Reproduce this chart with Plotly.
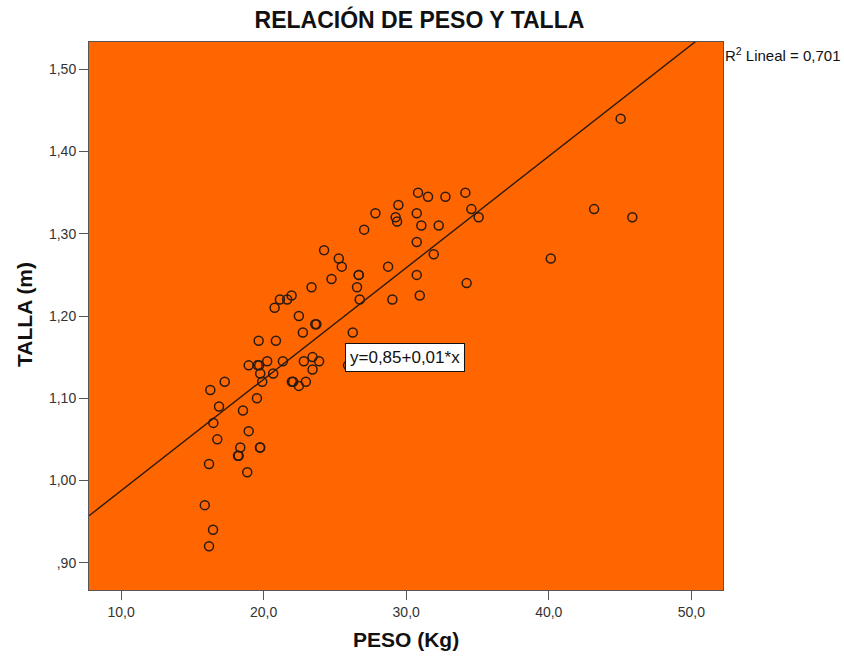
import plotly.graph_objects as go

# Data
peso = [27.84, 27.05, 24.24, 25.27, 25.48, 26.67, 26.67, 24.76, 23.36, 26.55,
        26.74, 21.96, 21.14, 21.65, 20.77, 22.47, 23.62, 23.70, 22.75, 26.25,
        19.65, 20.86, 18.95, 19.58, 19.69, 20.25, 21.35, 19.76, 20.67, 19.90,
        22.82, 23.43, 23.89, 23.43, 21.98, 22.07, 22.47, 22.96, 25.92, 17.27,
        16.26, 16.87, 19.53, 18.55, 16.47, 16.75, 18.95, 18.36, 18.20, 18.25,
        19.74, 19.76, 16.17, 18.85, 15.87, 16.45, 16.17, 30.83, 31.53, 32.75,
        34.15, 29.45, 29.26, 29.36, 30.74, 34.57, 35.08, 31.06, 32.28, 30.74,
        31.93, 28.73, 30.74, 29.03, 30.95, 34.24, 45.04, 43.18, 45.86, 40.14]

talla = [1.325, 1.305, 1.280, 1.270, 1.260, 1.250, 1.250, 1.245, 1.235, 1.235,
         1.220, 1.225, 1.220, 1.220, 1.210, 1.200, 1.190, 1.190, 1.180, 1.180,
         1.170, 1.170, 1.140, 1.140, 1.140, 1.145, 1.145, 1.130, 1.130, 1.120,
         1.145, 1.150, 1.145, 1.135, 1.120, 1.120, 1.115, 1.120, 1.140, 1.120,
         1.110, 1.090, 1.100, 1.085, 1.070, 1.050, 1.060, 1.040, 1.030, 1.030,
         1.040, 1.040, 1.020, 1.010, 0.970, 0.940, 0.920, 1.350, 1.345, 1.345,
         1.350, 1.335, 1.320, 1.315, 1.325, 1.330, 1.320, 1.310, 1.310, 1.290,
         1.275, 1.260, 1.250, 1.220, 1.225, 1.240, 1.440, 1.330, 1.320, 1.270]

intercept = 0.852
slope = 0.013556
r2_text = "R<sup>2</sup> Lineal = 0,701"
eq_text = "y=0,85+0,01*x"

x_range = [7.75, 52.22]
y_range = [0.8668, 1.5332]

x_tickvals = [10, 20, 30, 40, 50]
x_ticktext = ["10,0", "20,0", "30,0", "40,0", "50,0"]
y_tickvals = [0.90, 1.00, 1.10, 1.20, 1.30, 1.40, 1.50]
y_ticktext = [",90", "1,00", "1,10", "1,20", "1,30", "1,40", "1,50"]

font_family = "Liberation Sans, Arial, sans-serif"

fig = go.Figure()

line_x = [x_range[0], x_range[1]]
line_y = [intercept + slope * v for v in line_x]
fig.add_trace(go.Scatter(x=line_x, y=line_y, mode="lines",
                         line=dict(color="#2a1a10", width=1.4),
                         hoverinfo="skip", showlegend=False))

fig.add_trace(go.Scatter(x=peso, y=talla, mode="markers",
                         marker=dict(symbol="circle-open", size=9,
                                     color="#2a1a10", line=dict(width=1.5)),
                         showlegend=False))

fig.update_layout(
    width=844, height=656,
    margin=dict(l=89, r=121, t=42, b=66),
    paper_bgcolor="white",
    plot_bgcolor="#FF6600",
    font=dict(family=font_family, color="#222222"),
    title=dict(text="<b>RELACIÓN DE PESO Y TALLA</b>", x=0.497, xanchor="center",
               y=0.969, yanchor="middle", font=dict(size=23, color="#111111")),
    xaxis=dict(range=x_range, tickvals=x_tickvals, ticktext=x_ticktext,
               showgrid=False, zeroline=False, showline=True, mirror=True,
               linecolor="#555555", linewidth=1, ticks="outside", ticklen=9,
               tickcolor="#555555", tickfont=dict(size=14, color="#333333"),
               automargin=False),
    yaxis=dict(range=y_range, tickvals=y_tickvals, ticktext=y_ticktext,
               showgrid=False, zeroline=False, showline=True, mirror=True,
               linecolor="#555555", linewidth=1, ticks="outside", ticklen=9,
               tickcolor="#555555", tickfont=dict(size=14, color="#333333"),
               automargin=False),
)

# Axis titles
fig.add_annotation(text="<b>PESO (Kg)</b>", xref="paper", yref="paper",
                   x=0.4998, y=-0.0912, xanchor="center", yanchor="middle",
                   showarrow=False, font=dict(size=21, color="#111111"))
fig.add_annotation(text="<b>TALLA (m)</b>", xref="paper", yref="paper",
                   x=-0.1009, y=0.502, xanchor="center", yanchor="middle",
                   textangle=-90, showarrow=False, font=dict(size=21, color="#111111"))

fig.add_annotation(text=r2_text, xref="paper", yref="paper", x=1, y=0.978,
                   xanchor="left", yanchor="middle", showarrow=False,
                   font=dict(size=15, color="#111111"))

fig.add_annotation(text=eq_text, xref="x", yref="y", x=29.92, y=1.150,
                   xanchor="center", yanchor="middle", showarrow=False,
                   bgcolor="white", bordercolor="#111111", borderwidth=1,
                   borderpad=4, font=dict(size=17, color="#111111"))

fig.write_html("out.html")
